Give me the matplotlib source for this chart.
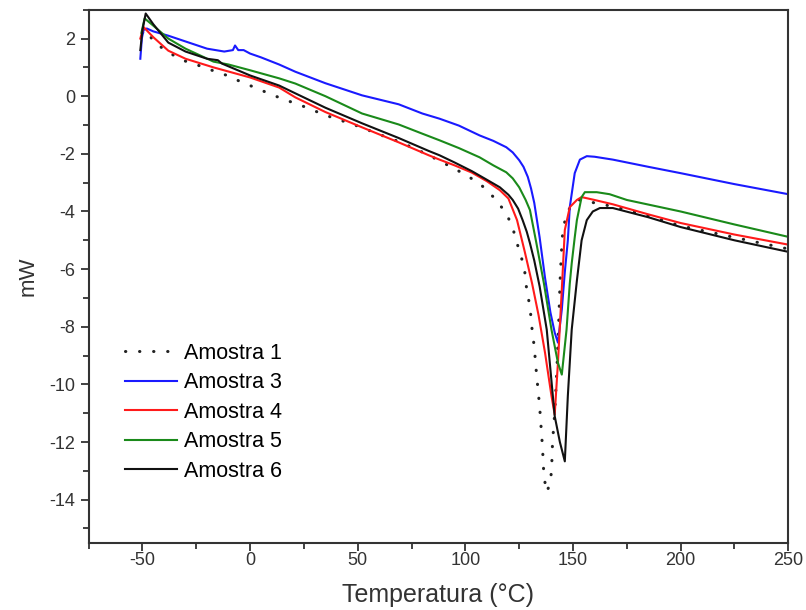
import matplotlib
matplotlib.use("Agg")
from matplotlib import pyplot as plt
from matplotlib.ticker import MultipleLocator

plt.rcParams['font.family'] = ['Liberation Sans', 'DejaVu Sans']
plt.rcParams['axes.unicode_minus'] = False

# ----------------
# Curve data
# ----------------

labels = ['Amostra 1', 'Amostra 3', 'Amostra 4', 'Amostra 5', 'Amostra 6']

# Amostra 1 (dotted)
t1 = [-50, -48, -45, -38, -31, -24, -17.7, -10.7, -3.7, 3.3, 9.8, 17.2, 23.7, 30.7,
      37.7, 44.7, 51.7, 58.7, 70, 80, 87, 93.5, 100.5, 107.5, 113.6, 119, 122, 124,
      126, 127.6, 128.5, 130, 131, 132, 133, 134.5, 135.8, 136.5, 137.8, 139, 140,
      140.5, 141.5, 142.5, 143.3, 144, 144.5, 145, 146.5, 149, 153, 160, 170, 185,
      200, 225, 250]
q1 = [2.2, 2.3, 1.9, 1.52, 1.24, 1.07, 0.9, 0.72, 0.48, 0.27, 0.06, -0.15, -0.32, -0.53,
      -0.73, -0.9, -1.08, -1.29, -1.6, -1.94, -2.2, -2.46, -2.74, -3.09, -3.54, -4.06,
      -4.57, -5.1, -5.58, -6.1, -6.72, -7.3, -8.1, -8.7, -9.6, -10.77, -12.15, -13.2,
      -13.74, -13.5, -13.05, -12.0, -11.0, -9.5, -8.0, -6.4, -5.6, -4.9, -4.2, -3.8,
      -3.6, -3.7, -3.85, -4.15, -4.5, -4.9, -5.3]

# Amostra 3 (blue)
t3 = [-51, -50.3, -49.5, -48, -45, -38, -30, -20, -12, -8, -7, -5.5, -3, 0, 5, 13.5,
      21, 35, 52, 69, 80, 88, 97, 106.6, 113, 119, 122, 125, 127, 129, 130.5, 132,
      134.5, 137, 139.5, 141.5, 143, 144.8, 146.2, 147.6, 148.5, 150.8, 153.2, 156.4,
      160, 168.5, 185, 200, 225, 250]
q3 = [1.3, 2.0, 2.3, 2.35, 2.25, 2.1, 1.9, 1.65, 1.55, 1.6, 1.76, 1.6, 1.6, 1.48, 1.35,
      1.1, 0.85, 0.45, 0.03, -0.28, -0.6, -0.78, -1.02, -1.36, -1.55, -1.77, -1.95,
      -2.22, -2.45, -2.8, -3.2, -3.7, -4.9, -6.3, -7.5, -8.2, -8.55, -7.4, -6.1, -5.0,
      -3.85, -2.67, -2.2, -2.08, -2.1, -2.2, -2.45, -2.67, -3.05, -3.4]

# Amostra 4 (red)
t4 = [-51, -49.5, -45, -38, -30, -17, 0, 13.5, 21, 35, 52, 69, 83, 88, 95, 103, 110,
      116, 120, 124, 127.6, 131, 134, 137, 140, 141.5, 143, 144.8, 146.2, 148.5, 151.8,
      154, 156.4, 160, 168.5, 185, 200, 225, 250]
q4 = [2.0, 2.4, 2.05, 1.58, 1.3, 1.0, 0.65, 0.3, -0.04, -0.55, -1.08, -1.6, -2.05, -2.2,
      -2.4, -2.65, -2.95, -3.26, -3.55, -4.3, -5.4, -6.5, -7.6, -8.9, -10.4, -11.05,
      -9.25, -6.7, -4.64, -3.85, -3.6, -3.5, -3.54, -3.6, -3.75, -4.1, -4.4, -4.8, -5.15]

# Amostra 5 (green)
t5 = [-50.5, -49, -45, -38, -30, -17, -10, 0, 13.5, 21, 35, 52, 69, 80, 88, 97, 106.6,
      113, 119, 122, 125, 128, 130, 133, 136.5, 140, 143, 144.8, 147, 148.5, 149.4,
      150.8, 151.8, 154, 155.5, 161, 167, 175, 200, 225, 250]
q5 = [2.2, 2.7, 2.45, 2.0, 1.65, 1.2, 1.1, 0.9, 0.62, 0.44, 0.0, -0.6, -0.98, -1.3, -1.53,
      -1.8, -2.12, -2.4, -2.64, -2.85, -3.16, -3.6, -3.95, -5.1, -6.5, -8.1, -9.25, -9.66,
      -8.1, -6.5, -5.8, -4.9, -4.3, -3.5, -3.33, -3.33, -3.4, -3.6, -4.0, -4.45, -4.88]

# Amostra 6 (black)
t6 = [-51, -50, -48.5, -45, -38, -30, -20, -15, -13, 0, 13.5, 21, 35, 52, 69, 83, 88,
      95, 103, 110, 116, 120, 122, 124.5, 126.6, 128.5, 130, 132, 134.5, 137.8, 141.5,
      143.9, 146.2, 147.6, 149.4, 151.8, 154, 156.4, 159.2, 162.5, 168.5, 185, 200,
      225, 250]
q6 = [1.6, 2.3, 2.87, 2.5, 1.86, 1.55, 1.3, 1.25, 1.13, 0.72, 0.37, 0.1, -0.4, -0.94,
      -1.45, -1.9, -2.05, -2.3, -2.6, -2.9, -3.16, -3.42, -3.6, -3.9, -4.3, -4.7, -5.1,
      -5.7, -6.6, -8.1, -11.1, -12.0, -12.67, -10.4, -8.1, -6.4, -5.0, -4.3, -4.0, -3.88,
      -3.88, -4.2, -4.54, -5.0, -5.4]

# ----------------
# Plot
# ----------------

fig = plt.figure(figsize=(8.06, 6.10), dpi=100)
ax = fig.add_axes([0.110, 0.110, 0.868, 0.874])

ax.plot(t1, q1, color='#222222', lw=2.2, dashes=(0.1, 4.5), dash_capstyle='round',
        label=labels[0])
ax.plot(t3, q3, color='#1a1aff', lw=1.5, label=labels[1])
ax.plot(t4, q4, color='#ff1a1a', lw=1.5, label=labels[2])
ax.plot(t5, q5, color='#1a8a1a', lw=1.5, label=labels[3])
ax.plot(t6, q6, color='#111111', lw=1.5, label=labels[4])

ax.set_xlim(-75, 250)
ax.set_ylim(-15.5, 3)
ax.xaxis.set_major_locator(MultipleLocator(50))
ax.xaxis.set_minor_locator(MultipleLocator(25))
ax.yaxis.set_major_locator(MultipleLocator(2))
ax.yaxis.set_minor_locator(MultipleLocator(1))
ax.tick_params(which='major', direction='out', length=5.5, width=1.3, labelsize=13,
               colors='#333333', top=False, right=False)
ax.tick_params(axis='x', which='major', pad=1)
ax.tick_params(axis='y', which='major', pad=4)
ax.tick_params(which='minor', direction='out', length=4, width=1.3, colors='#333333',
               top=False, right=False)
for s in ax.spines.values():
    s.set_linewidth(1.5)
    s.set_color('#333333')

ax.set_xlabel('Temperatura (°C)', fontsize=18, color='#333333', labelpad=10)
ax.set_ylabel('mW', fontsize=16, color='#333333', labelpad=8)

ax.legend(loc='upper left', bbox_to_anchor=(0.039, 0.392), frameon=False, fontsize=15.5,
          handlelength=2.45, handletextpad=0.33, labelspacing=0.4, borderaxespad=0)

fig.savefig('out.png', dpi=100)
